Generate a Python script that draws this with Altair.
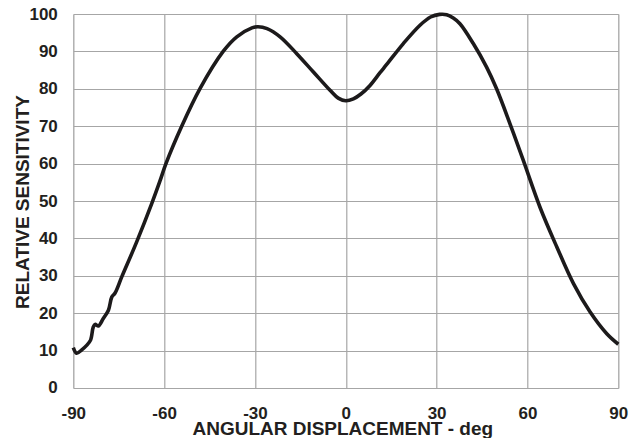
import altair as alt
import pandas as pd

angle = [-90, -88.9, -87.2, -85.6, -84.3, -83.4, -82.8, -81.7, -80.1, -78.4, -77.3, -76.2,
         -74.0, -69.1, -64.1, -61.4, -59.4, -54.2, -48.2, -40.5, -36.0, -31.0, -29.0, -26.0,
         -21.7, -16.2, -10.7, -5.2, -2.5, 0.0, 2.5, 5.0, 8.0, 11.3, 13.5, 19.0, 24.5, 28.0,
         31.0, 33.3, 35.5, 37.7, 42.1, 46.5, 49.8, 54.2, 58.6, 64.2, 69.7, 75.2, 80.7,
         86.2, 90.0]
sensitivity = [10.8, 9.3, 10.2, 11.4, 12.8, 16.3, 17.0, 16.6, 18.6, 20.8, 24.3, 25.4,
               29.7, 39.0, 49.3, 55.3, 60.0, 70.0, 80.0, 90.0, 93.9, 96.3, 96.6, 96.1,
               93.9, 89.4, 84.5, 79.6, 77.5, 76.8, 77.3, 78.6, 80.9, 84.3, 86.5, 92.1, 97.0, 99.2,
               99.9, 99.8, 98.9, 97.4, 92.1, 85.8, 80.0, 70.7, 60.9, 48.2, 37.7, 27.9, 20.3,
               14.5, 11.7]

x_ticks = [-90, -60, -30, 0, 30, 60, 90]
y_ticks = [0, 10, 20, 30, 40, 50, 60, 70, 80, 90, 100]

df = pd.DataFrame({"angle": angle, "sens": sensitivity})

FONT = "Liberation Sans"
TXT = "#231f20"
GRID = "#a6a6a6"

chart = alt.Chart(df).mark_line(
    color="#1c1a1b", strokeWidth=3.6, interpolate="catmull-rom"
).encode(
    x=alt.X("angle:Q",
            scale=alt.Scale(domain=[-90, 90], nice=False, zero=False),
            axis=alt.Axis(values=x_ticks, title="ANGULAR DISPLACEMENT - deg",
                          labelExpr="'' + datum.value",
                          grid=True, gridColor=GRID, gridWidth=1.2, gridOpacity=1,
                          domain=False, ticks=False, tickSize=0,
                          labelFont=FONT, labelFontSize=17, labelFontWeight="bold",
                          labelColor=TXT, labelBaseline="alphabetic", labelPadding=31,
                          labelFlush=False, labelOverlap=False,
                          titleFont=FONT, titleFontSize=19, titleFontWeight="bold",
                          titleColor=TXT, titleBaseline="alphabetic",
                          titleX=269, titleY=47)),
    y=alt.Y("sens:Q",
            scale=alt.Scale(domain=[0, 100], nice=False),
            axis=alt.Axis(values=y_ticks, title="RELATIVE SENSITIVITY",
                          grid=True, gridColor=GRID, gridWidth=1.2, gridOpacity=1,
                          domain=False, ticks=False, tickSize=0,
                          labelFont=FONT, labelFontSize=17, labelFontWeight="bold",
                          labelColor=TXT, labelPadding=16, labelFlush=False,
                          labelOverlap=False,
                          titleFont=FONT, titleFontSize=19, titleFontWeight="bold",
                          titleColor=TXT, titleBaseline="alphabetic",
                          titleAngle=270, titleX=-45, titleY=187.5)),
).properties(
    width=545, height=374,
    autosize=alt.AutoSizeParams(type="none"),
    padding={"left": 65.3, "top": 6, "right": 12, "bottom": 50},
).configure_view(stroke=None).configure(background="white")

chart.save("out.html", embed_options={"renderer": "svg", "actions": False})
